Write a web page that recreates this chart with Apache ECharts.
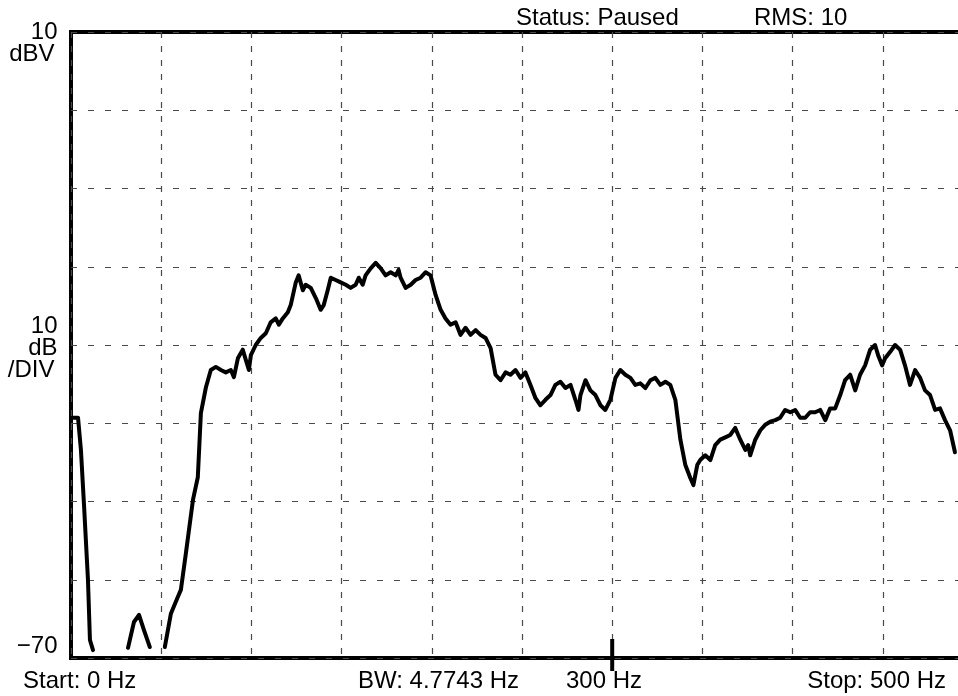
<!DOCTYPE html>
<html>
<head>
<meta charset="utf-8">
<script src="https://cdn.jsdelivr.net/npm/echarts@6/dist/echarts.min.js"></script>
<style>
  html, body { margin: 0; padding: 0; background: #fff; }
  #chart { width: 958px; height: 696px; }
</style>
</head>
<body>
<div id="chart"></div>
<script>
// Spectrum trace: frequency (Hz) and level (dBV). null = trace below the bottom of the screen.
const freqHz = [
  1.1, 3.9, 5.5, 7.2, 9.4, 10.5, 12.2, 20,
  31.6, 34.9, 37.7, 40.4, 43.7, 48,
  52.0, 55.4, 59.2, 60.9, 63.7, 67.6, 70.3, 72.0, 74.8, 77.5, 80.3, 83.1, 85.8, 88.6, 90.3,
  92.5, 95.2, 96.9, 98.6, 99.7, 102.4, 105.2, 108.0, 110.7, 113.5, 115.2, 117.4, 120.2, 121.8,
  124.6, 126.2, 128.5, 130.1, 132.9, 135.7, 138.4, 140.1, 142.3, 144.0, 146.7, 149.5, 152.3,
  155.0, 157.8, 159.5, 161.7, 163.3, 166.1, 168.9, 171.7, 174.4, 177.2, 180.0, 181.6, 182.7,
  185.5, 188.3, 191.0, 193.8, 196.6, 199.3, 202.1, 204.9, 207.6, 210.4, 213.2, 215.9, 218.7,
  221.5, 224.3, 227.0, 229.8, 232.6, 235.3, 238.1, 240.9, 243.6, 246.4, 249.2, 251.9, 254.7,
  257.5, 260.2, 263.0, 265.8, 268.5, 271.3, 274.1, 276.9, 279.6, 281.3, 282.4, 285.2, 287.9,
  290.7, 293.5, 296.2, 299.0, 301.8, 304.5, 307.3, 310.1, 312.8, 315.6, 318.4, 321.2, 323.9,
  326.7, 329.5, 332.2, 335.0, 337.8, 340.5, 343.3, 345.0, 347.2, 348.8, 351.6, 354.4, 357.1,
  359.9, 362.7, 365.4, 368.2, 371.0, 373.8, 375.4, 376.5, 379.3, 382.1, 384.8, 387.6, 390.4,
  393.1, 395.9, 398.7, 401.4, 404.2, 407.0, 409.7, 412.5, 415.3, 418.1, 420.8, 423.6, 426.4,
  429.1, 431.9, 434.7, 437.4, 440.2, 443.0, 445.7, 447.4, 449.6, 451.3, 454.0, 456.8, 459.6,
  462.3, 465.1, 467.9, 470.7, 473.4, 476.2, 479.0, 481.7, 484.5, 487.3, 490.0
];
const levelDbv = [
  -39.3, -39.3, -43.4, -50.4, -60.0, -67.7, -69.0, null,
  -68.7, -65.4, -64.5, -66.4, -68.6, null,
  -68.6, -64.3, -62.2, -61.3, -56.6, -49.8, -46.9, -38.7, -35.4, -33.2, -32.8, -33.2, -33.5, -33.2, -34.1,
  -31.7, -30.6, -31.9, -33.2, -31.3, -30.0, -29.1, -28.5, -27.1, -26.6, -27.4, -26.6, -25.8, -24.9,
  -22.0, -21.1, -23.0, -22.3, -22.7, -24.0, -25.5, -24.9, -23.0, -21.4, -21.7, -22.0, -22.3,
  -22.7, -22.3, -21.4, -22.3, -21.1, -20.2, -19.5, -20.2, -21.1, -20.7, -21.1, -20.4, -21.4,
  -22.7, -22.3, -21.7, -21.4, -20.7, -21.1, -23.6, -25.5, -26.6, -27.4, -27.1, -28.7, -27.8,
  -28.7, -28.1, -28.7, -29.1, -30.4, -33.8, -34.5, -33.5, -33.8, -33.2, -34.2, -33.5, -35.1,
  -36.8, -37.7, -37.0, -36.4, -35.1, -34.7, -35.5, -35.1, -37.0, -38.3, -36.4, -34.5, -35.8,
  -36.4, -37.7, -38.3, -37.0, -34.2, -33.2, -33.8, -34.2, -35.1, -34.9, -35.5, -34.5, -34.2,
  -35.1, -34.7, -35.1, -37.0, -42.1, -45.3, -47.0, -47.9, -45.3, -44.7, -44.1, -44.7, -42.8,
  -42.1, -41.8, -41.5, -40.6, -42.1, -43.4, -42.8, -44.1, -42.1, -40.9, -40.2, -39.8, -39.6,
  -39.3, -38.3, -38.6, -38.3, -39.3, -39.3, -38.6, -38.6, -38.3, -39.6, -38.1, -38.1, -36.4,
  -34.5, -33.8, -35.8, -33.8, -32.6, -30.6, -30.0, -31.3, -32.6, -31.7, -30.9, -30.0, -30.6,
  -32.6, -35.1, -33.2, -34.2, -35.8, -36.4, -38.3, -38.1, -39.6, -40.9, -43.7
];

// Axis scale
const freqStart = 0, freqStop = 500, freqDiv = 50;
const levelTop = 10, levelBottom = -70, levelDiv = 10;

// Level annotations on the left edge: [value, lines]
const levelLabels = [
  [10, ['10', 'dBV']],
  [-30, ['10', 'dB', '/DIV']],
  [-70, ['\u221270']]
];

// Readouts
const statusText = 'Status: Paused';
const rmsText = 'RMS: 10';
const startText = 'Start: 0 Hz';
const bwText = 'BW: 4.7743 Hz';
const markerHz = 300;
const markerText = '300 Hz';
const stopText = 'Stop: 500 Hz';

const FONT = '24px "Liberation Sans", Arial, sans-serif';
const LINE_H = 22;

const chart = echarts.init(document.getElementById('chart'), null, { renderer: 'canvas' });

const traceData = freqHz.map((f, i) => [f, levelDbv[i] === null ? '-' : levelDbv[i]]);

const gridLine = { color: '#4a4a4a', width: 1.2 };

chart.setOption({
  animation: false,
  backgroundColor: '#fff',
  grid: {
    left: 71, top: 32, width: 902, height: 626,
    containLabel: false, outerBoundsMode: 'none',
    show: true, borderColor: '#000', borderWidth: 4, backgroundColor: 'transparent'
  },
  xAxis: {
    type: 'value', min: freqStart, max: freqStop, interval: freqDiv,
    axisLine: { show: false }, axisTick: { show: false }, axisLabel: { show: false },
    splitLine: { show: true, lineStyle: Object.assign({ type: [6, 8] }, gridLine) }
  },
  yAxis: {
    type: 'value', min: levelBottom, max: levelTop, interval: levelDiv,
    axisLine: { show: false }, axisTick: { show: false }, axisLabel: { show: false },
    splitLine: { show: true, lineStyle: Object.assign({ type: [6, 11] }, gridLine) }
  },
  series: [{
    type: 'line',
    data: traceData,
    showSymbol: false,
    connectNulls: false,
    lineStyle: { color: '#000', width: 4, join: 'round', cap: 'round' },
    clip: true
  }]
});

// Text and marker overlays placed through the chart's own scales
const px = (f, v) => chart.convertToPixel({ gridIndex: 0 }, [f, v]);
const elements = [];

const textAt = (txt, x, y, align) => ({
  type: 'text', z: 10,
  style: { text: txt, x: x, y: y, font: FONT, fill: '#000', align: align, verticalAlign: 'middle' }
});

levelLabels.forEach(([v, lines]) => {
  const y = px(0, v)[1];
  // centre of the first line relative to the grid line
  let first;
  if (v === levelTop) first = y;
  else if (v === levelBottom) first = y - 12;
  else first = y - 19;
  lines.forEach((ln, k) => {
    const right = /V$/.test(ln) ? 54.5 : 57.5;
    elements.push(textAt(ln, right, first + k * LINE_H, 'right'));
  });
});

elements.push(textAt(statusText, 516, 18.5, 'left'));
elements.push(textAt(rmsText, 754, 18.5, 'left'));
elements.push(textAt(startText, 23, 681, 'left'));
elements.push(textAt(bwText, 438.5, 681, 'center'));
elements.push(textAt(markerText, 604, 681, 'center'));
elements.push(textAt(stopText, 946, 681, 'right'));

const mk = px(markerHz, levelBottom);
elements.push({
  type: 'line', z: 10,
  shape: { x1: mk[0], y1: mk[1] - 19, x2: mk[0], y2: mk[1] + 13 },
  style: { stroke: '#000', lineWidth: 4 }
});

chart.setOption({ graphic: { elements: elements } });
</script>
</body>
</html>
